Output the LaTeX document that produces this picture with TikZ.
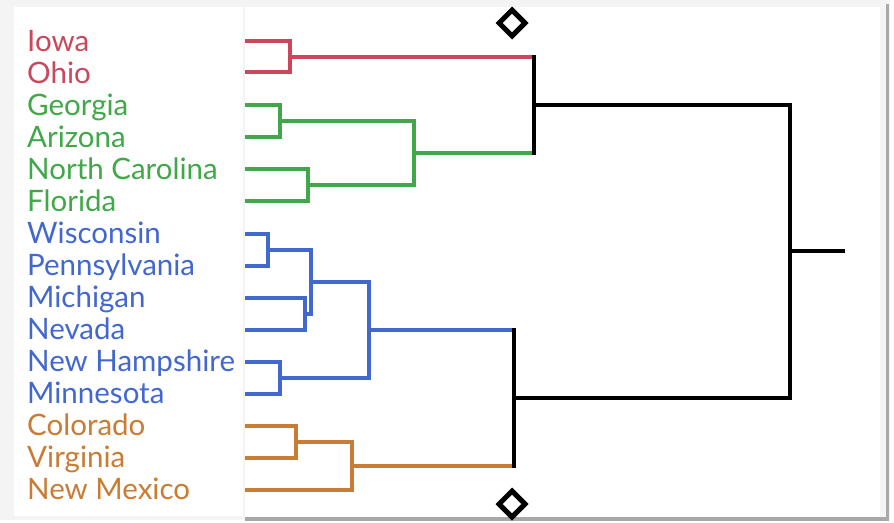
\documentclass[tikz,border=0pt]{standalone}
\usepackage{fontspec}
\setmainfont{Lato}
\usetikzlibrary{shapes.geometric}
\definecolor{cred}{RGB}{201,72,92}
\definecolor{cgreen}{RGB}{64,168,72}
\definecolor{cblue}{RGB}{66,104,208}
\definecolor{corange}{RGB}{200,124,52}
\definecolor{frame}{RGB}{244,244,244}
\definecolor{edge}{RGB}{168,168,168}
\tikzset{
  lab/.style={anchor=base west,inner sep=0pt,font=\fontsize{29.5}{29.5}\selectfont},
  dendline/.style={line width=3.6pt,line cap=rect,line join=miter},
  blkline/.style={line width=4pt,draw=black,line cap=rect,line join=miter},
  diamark/.style={diamond,draw=black,line width=5pt,minimum width=28pt,minimum height=28pt,inner sep=0pt}
}
\begin{document}
\begin{tikzpicture}[x=1pt,y=-1pt]
\useasboundingbox (0,0) rectangle (894,522);
% frame
\fill[frame] (0,0) rectangle (894,522);
\fill[white] (0,522) rectangle (894,520);
\fill[white] (890,0) rectangle (894,522);
\fill[white] (14,7) rectangle (243,516);
\fill[white] (245,7) rectangle (880,517);
\fill[edge] (885.5,4) rectangle (889,520);
\fill[edge] (245,517) rectangle (889,520.5);
% labels
\node[lab,text=cred]    (tIowa) at (27,51) {Iowa};
\node[lab,text=cred]    (tOhio) at (27,83) {Ohio};
\node[lab,text=cgreen]  (tGeo)  at (27,115) {Georgia};
\node[lab,text=cgreen]  (tAri)  at (27,147) {Arizona};
\node[lab,text=cgreen]  (tNC)   at (27,179) {North Carolina};
\node[lab,text=cgreen]  (tFla)  at (27,211) {Florida};
\node[lab,text=cblue]   (tWis)  at (27,243) {Wisconsin};
\node[lab,text=cblue]   (tPen)  at (27,275) {Pennsylvania};
\node[lab,text=cblue]   (tMic)  at (27,307) {Michigan};
\node[lab,text=cblue]   (tNev)  at (27,339) {Nevada};
\node[lab,text=cblue]   (tNH)   at (27,371) {New Hampshire};
\node[lab,text=cblue]   (tMin)  at (27,403) {Minnesota};
\node[lab,text=corange] (tCol)  at (27,435) {Colorado};
\node[lab,text=corange] (tVir)  at (27,467) {Virginia};
\node[lab,text=corange] (tNM)   at (27,499) {New Mexico};
% leaf ends
\coordinate (cIowa) at (247,41);
\coordinate (cOhio) at (247,72);
\coordinate (cGeo)  at (247,105);
\coordinate (cAri)  at (247,137);
\coordinate (cNC)   at (247,169);
\coordinate (cFla)  at (247,201);
\coordinate (cWis)  at (247,234);
\coordinate (cPen)  at (247,266);
\coordinate (cMic)  at (247,298);
\coordinate (cNev)  at (247,330);
\coordinate (cNH)   at (247,362);
\coordinate (cMin)  at (247,394);
\coordinate (cCol)  at (247,426);
\coordinate (cVir)  at (247,458);
\coordinate (cNM)   at (247,490);
% junctions
\coordinate (jIO)  at (290,57);
\coordinate (jGA)  at (280,121);
\coordinate (jNF)  at (308,185);
\coordinate (jG)   at (414,153);
\coordinate (jTop) at (534,105);
\coordinate (jWP)  at (268,250);
\coordinate (jMN)  at (305,314);
\coordinate (jWM)  at (311,282);
\coordinate (jNHM) at (280,378);
\coordinate (jB)   at (369,330);
\coordinate (jCV)  at (296,442);
\coordinate (jO)   at (352,466);
\coordinate (jBot) at (514,398);
\coordinate (jRoot) at (790,251);
\coordinate (jEnd) at (843,251);
% red
\draw[dendline,draw=cred] (cIowa) -| (jIO) |- (cOhio);
\draw[dendline,draw=cred] (jIO) -- (jIO -| jTop);
% green
\draw[dendline,draw=cgreen] (cGeo) -| (jGA) |- (cAri);
\draw[dendline,draw=cgreen] (cNC) -| (jNF) |- (cFla);
\draw[dendline,draw=cgreen] (jGA) -| (jG) |- (jNF);
\draw[dendline,draw=cgreen] (jG) -- (jG -| jTop);
% blue
\draw[dendline,draw=cblue] (cWis) -| (jWP) |- (cPen);
\draw[dendline,draw=cblue] (cMic) -| (jMN) |- (cNev);
\draw[dendline,draw=cblue] (jWP) -| (jWM) |- (jMN);
\draw[dendline,draw=cblue] (cNH) -| (jNHM) |- (cMin);
\draw[dendline,draw=cblue] (jWM) -| (jB) |- (jNHM);
\draw[dendline,draw=cblue] (jB) -- (jB -| jBot);
% orange
\draw[dendline,draw=corange] (cCol) -| (jCV) |- (cVir);
\draw[dendline,draw=corange] (jCV) -| (jO) |- (cNM);
\draw[dendline,draw=corange] (jO) -- (jO -| jBot);
% black
\draw[blkline] (jIO -| jTop) -- (jG -| jTop);
\draw[blkline] (jB -| jBot) -- (jO -| jBot);
\draw[blkline] (jTop) -- (jTop -| jRoot);
\draw[blkline] (jBot) -- (jBot -| jRoot);
\draw[blkline] (jTop -| jRoot) -- (jBot -| jRoot);
\draw[blkline] (jRoot) -- (jEnd);
% diamonds
\node[diamark] (dTop) at (512,23) {};
\node[diamark] (dBot) at (512,504) {};
\end{tikzpicture}
\end{document}
